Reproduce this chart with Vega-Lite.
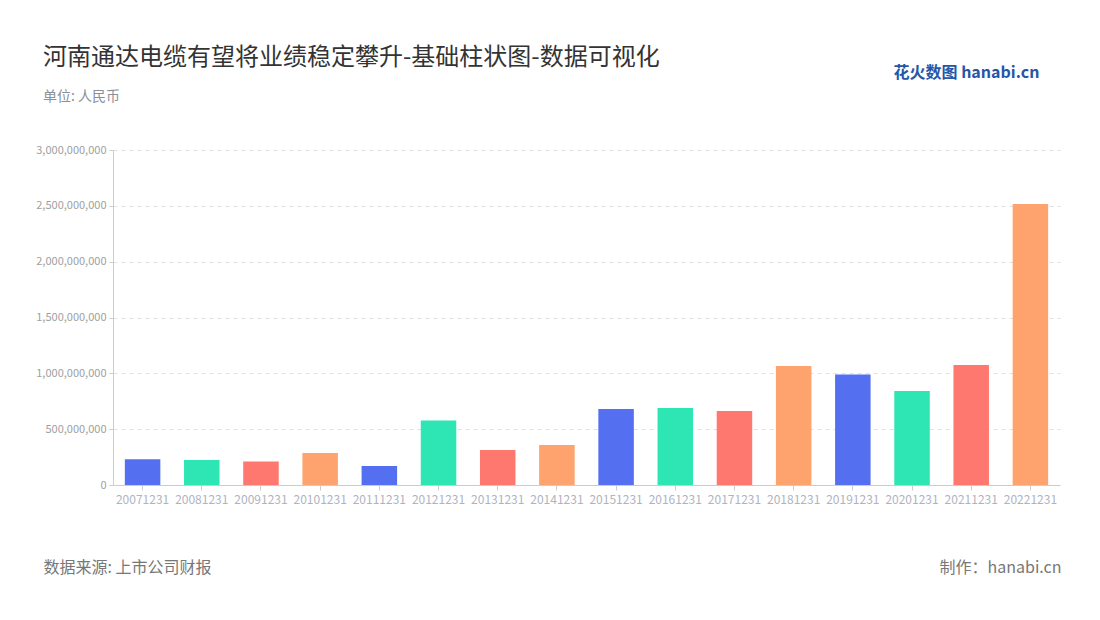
{
  "$schema": "https://vega.github.io/schema/vega-lite/v6.json",
  "width": 947,
  "height": 335,
  "autosize": {"type": "none"},
  "padding": {"left": 113, "top": 150, "right": 40, "bottom": 135},
  "background": "#ffffff",
  "config": {
    "font": "Noto Sans CJK SC",
    "view": {"stroke": null}
  },
  "title": {
    "text": "河南通达电缆有望将业绩稳定攀升-基础柱状图-数据可视化",
    "subtitle": "单位: 人民币",
    "anchor": "start",
    "frame": "group",
    "orient": "top",
    "dx": -70,
    "dy": 92,
    "offset": 52,
    "fontSize": 24,
    "fontWeight": "normal",
    "color": "#333333",
    "subtitleFontSize": 14,
    "subtitleColor": "#8a8f99",
    "subtitlePadding": 20,
    "font": "Noto Sans CJK SC",
    "subtitleFont": "Noto Sans CJK SC"
  },
  "data": {
    "values": [
      {"date": "20071231", "value": 230000000},
      {"date": "20081231", "value": 224000000},
      {"date": "20091231", "value": 210000000},
      {"date": "20101231", "value": 287000000},
      {"date": "20111231", "value": 170000000},
      {"date": "20121231", "value": 577000000},
      {"date": "20131231", "value": 313000000},
      {"date": "20141231", "value": 358000000},
      {"date": "20151231", "value": 680000000},
      {"date": "20161231", "value": 690000000},
      {"date": "20171231", "value": 662000000},
      {"date": "20181231", "value": 1065000000},
      {"date": "20191231", "value": 989000000},
      {"date": "20201231", "value": 842000000},
      {"date": "20211231", "value": 1074000000},
      {"date": "20221231", "value": 2516000000}
    ]
  },
  "resolve": {"axis": {"x": "independent", "y": "independent"}},
  "layer": [
    {
      "mark": {"type": "bar"},
      "encoding": {
        "x": {
          "field": "date",
          "type": "nominal",
          "sort": null,
          "scale": {"paddingInner": 0.4, "paddingOuter": 0.2},
          "axis": {
            "title": "数据来源: 上市公司财报",
            "titleAnchor": "start",
            "titleAlign": "left",
            "titleX": -70,
            "titleY": 82,
            "titleBaseline": "middle",
            "titleFontSize": 16,
            "titleFontWeight": "normal",
            "titleColor": "#777777",
            "labelAngle": 0,
            "labelFontSize": 12,
            "labelColor": "#b0b3bf",
            "labelPadding": 4,
            "domainColor": "#cccccc",
            "tickColor": "#cccccc",
            "tickSize": 5,
            "grid": false
          }
        },
        "y": {
          "field": "value",
          "type": "quantitative",
          "scale": {"domain": [0, 3000000000], "nice": false},
          "axis": {
            "title": null,
            "labelExpr": "format(datum.value, ',')",
            "values": [0, 500000000, 1000000000, 1500000000, 2000000000, 2500000000, 3000000000],
            "labelFontSize": 11,
            "labelColor": "#a0a0a0",
            "labelPadding": 3,
            "domain": true,
            "domainColor": "#cccccc",
            "ticks": true,
            "tickColor": "#cccccc",
            "tickSize": 4,
            "grid": true,
            "gridColor": "#e0e0e0",
            "gridDash": [4, 4]
          }
        },
        "color": {
          "field": "date",
          "type": "nominal",
          "sort": null,
          "legend": null,
          "scale": {
            "range": ["#5470F0", "#2EE6B4", "#FF7870", "#FFA36E", "#5470F0", "#2EE6B4", "#FF7870", "#FFA36E", "#5470F0", "#2EE6B4", "#FF7870", "#FFA36E", "#5470F0", "#2EE6B4", "#FF7870", "#FFA36E"]
          }
        }
      }
    },
    {
      "mark": {"type": "bar", "opacity": 0},
      "encoding": {
        "x": {
          "field": "date",
          "type": "nominal",
          "sort": null,
          "axis": {
            "orient": "top",
            "title": "花火数图 hanabi.cn",
            "titleAnchor": "start",
            "titleAlign": "left",
            "titleX": 780,
            "titleY": -78,
            "titleBaseline": "middle",
            "titleFontSize": 16,
            "titleFontWeight": "bold",
            "titleColor": "#2556a8",
            "labels": false,
            "ticks": false,
            "domain": false,
            "grid": false
          }
        },
        "y": {
          "field": "value",
          "type": "quantitative",
          "axis": {
            "orient": "right",
            "title": "制作：hanabi.cn",
            "titleAngle": 0,
            "titleAlign": "right",
            "titleAnchor": "start",
            "titleX": 1,
            "titleY": 417,
            "titleBaseline": "middle",
            "titleFontSize": 16,
            "titleFontWeight": "normal",
            "titleColor": "#777777",
            "labels": false,
            "ticks": false,
            "domain": false,
            "grid": false
          }
        }
      }
    }
  ]
}
